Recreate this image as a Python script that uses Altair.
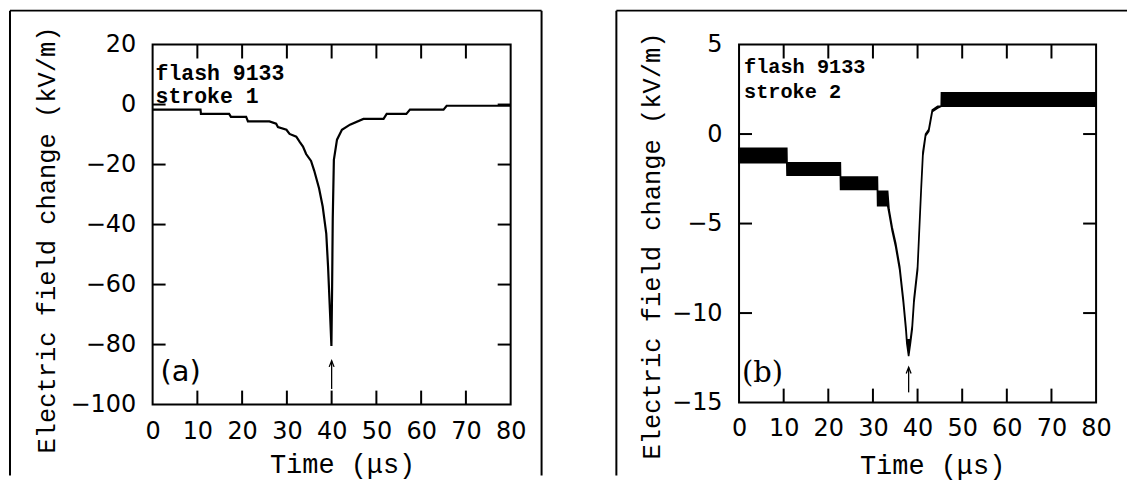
import altair as alt
import pandas as pd

# ---------------- data ----------------
# Panel (a): flash 9133, stroke 1  (time in microseconds, field in kV/m)
time_a = [0, 10.7, 10.8, 17.1, 17.5, 20.9, 21.3, 26.1, 27.6, 28, 29.9, 30.6, 32.1, 32.9,
          33.6, 34.3, 35.4, 36.1, 37.2, 38.0, 38.8, 39.2, 39.6, 39.95, 40.1, 40.25, 40.5,
          41.2, 42.3, 44.1, 47.1, 51.6, 52.3, 56.7, 57.5, 65.0, 65.7, 80]
field_a = [-1.7, -1.7, -3.1, -3.1, -4.1, -4.1, -5.6, -5.6, -6.4, -7.5, -8.4, -9.8, -10.7, -12.5,
           -14, -16.5, -18.8, -22, -28, -34, -43, -54, -68, -80.5, -62, -38, -18.4,
           -11.7, -8.4, -6.7, -4.8, -4.8, -3.1, -3.1, -1.7, -1.7, -0.4, -0.4]

# Panel (b): flash 9133, stroke 2 (noisy trace drawn as upper / lower envelope)
time_b = [0, 10.7, 10.75, 22.7, 22.75, 31.0, 31.05, 33.3, 33.6, 34.3, 35.1, 36.0, 36.8, 37.4,
          37.6, 38.0, 38.4, 38.8, 39.2, 40.0, 40.8, 41.2, 41.8, 42.5, 42.9, 43.3, 44.5, 45.3,
          45.35, 80]
field_b_hi = [-0.8, -0.8, -1.6, -1.6, -2.4, -2.4, -3.2, -3.2, -4.2, -5.2, -6.1, -7.4, -9.2, -10.8,
              -11.5, -11.5, -11.5, -10.7, -9.2, -7.4, -3.0, -1.0, 0.0, 0.25, 0.8, 1.35, 1.55, 1.55,
              2.3, 2.3]
field_b_lo = [-1.6, -1.6, -2.3, -2.3, -3.1, -3.1, -4.0, -4.0, -4.4, -5.4, -6.3, -7.6, -9.4, -11.0,
              -11.7, -12.4, -11.7, -10.9, -9.4, -7.6, -3.2, -1.2, -0.1, 0.15, 0.7, 1.25, 1.45, 1.55,
              1.55, 1.55]

x_ticks = [0, 10, 20, 30, 40, 50, 60, 70, 80]
y_ticks_a = [-100, -80, -60, -40, -20, 0, 20]
y_ticks_b = [-15, -10, -5, 0, 5]
labels_a = ["flash 9133", "stroke 1", "(a)"]
labels_b = ["flash 9133", "stroke 2", "(b)"]
arrow_a = {"t": 40.0, "tip": -85.4, "tail": -94.8}
arrow_b = {"t": 38.0, "tip": -13.03, "tail": -14.43}

x_title = "Time (\u03bcs)"
y_title = "Electric field change (kV/m)"

LABEL_FONT = "DejaVu Sans"
TITLE_FONT = "Liberation Mono"
XT, YT = 14, 13   # inward tick lengths in pixels


def panel(df_main, main_layer_fn, y_domain, y_ticks, labels, arrow, geo):
    W, H = geo["W"], geo["H"]
    xs = alt.Scale(domain=[0, 80], nice=False, zero=False)
    ys = alt.Scale(domain=y_domain, nice=False, zero=False)
    x_axis = alt.Axis(values=x_ticks, ticks=False, tickSize=0, domain=False, grid=False,
                      labelFont=LABEL_FONT, labelFontSize=24, labelColor="black",
                      labelBaseline="alphabetic", labelPadding=geo["xlabpad"], labelFlush=False,
                      title=x_title, titleFont=TITLE_FONT, titleFontSize=27,
                      titleFontWeight="normal", titleColor="black", titleLimit=1000,
                      titleX=geo["xtx"], titleY=geo["xty"], titleAlign="center",
                      titleBaseline="alphabetic")
    y_axis = alt.Axis(values=y_ticks, ticks=False, tickSize=0, domain=False, grid=False,
                      labelFont=LABEL_FONT, labelFontSize=24, labelColor="black",
                      labelPadding=17, labelFlush=False, format="d",
                      title=y_title, titleFont=TITLE_FONT, titleFontSize=25.5,
                      titleFontWeight="normal", titleColor="black", titleLimit=1000,
                      titleX=geo["ytx"], titleY=geo["yty"], titleAngle=270,
                      titleAlign="center", titleBaseline="alphabetic")

    main = main_layer_fn(alt.Chart(df_main),
                         lambda f: alt.X(f, scale=xs, axis=x_axis),
                         lambda f: alt.Y(f, scale=ys, axis=y_axis))
    Xn = lambda f: alt.X(f, scale=xs, axis=None)
    Yn = lambda f: alt.Y(f, scale=ys, axis=None)

    one = pd.DataFrame({"d": [0]})
    layers = [main]

    # arrow marking the peak
    adf = pd.DataFrame({"t": [arrow["t"]], "v": [arrow["tip"]], "tail": [arrow["tail"]]})
    layers.append(alt.Chart(adf).mark_rule(color="black", strokeWidth=1.3).encode(
        x=Xn("t:Q"), y=Yn("v:Q"), y2="tail:Q"))
    layers.append(alt.Chart(adf).mark_point(shape="M -0.4 1 L 0 0 L 0.4 1", filled=False,
                                            color="black", strokeWidth=1.3, size=150, opacity=1).encode(
        x=Xn("t:Q"), y=Yn("v:Q")))

    # annotation text
    for txt, yy in [(labels[0], geo["ay1"]), (labels[1], geo["ay2"])]:
        layers.append(alt.Chart(one).mark_text(font=TITLE_FONT, fontWeight="bold", fontSize=geo["afs"],
                                               align="left", baseline="alphabetic", color="black").encode(
            x=alt.value(geo["ax"]), y=alt.value(yy), text=alt.value(txt)))
    layers.append(alt.Chart(one).mark_text(font=geo["pfont"], fontSize=29, align="left",
                                           baseline="alphabetic", color="black").encode(
        x=alt.value(geo["px"]), y=alt.value(geo["py"]), text=alt.value(labels[2])))

    # outer frame around the panel
    fl, ft, fr, fb = geo["frame"]
    layers.append(alt.Chart(one).mark_rule(color="black", strokeWidth=2).encode(
        x=alt.value(fl), x2=alt.value(fr), y=alt.value(ft)))
    layers.append(alt.Chart(one).mark_rule(color="black", strokeWidth=2).encode(
        x=alt.value(fl), y=alt.value(ft), y2=alt.value(fb)))
    if geo.get("right_edge"):
        layers.append(alt.Chart(one).mark_rule(color="black", strokeWidth=2).encode(
            x=alt.value(fr), y=alt.value(ft), y2=alt.value(fb)))

    # inward tick marks on all four sides, drawn last, placed through the panel scales
    xt = pd.DataFrame({"t": x_ticks[1:-1]})
    yt = pd.DataFrame({"v": y_ticks[1:-1]})
    for y0, y1 in [(0, XT), (H, H - XT)]:
        layers.append(alt.Chart(xt).mark_rule(color="black", strokeWidth=2).encode(
            x=Xn("t:Q"), y=alt.value(y0), y2=alt.value(y1)))
    for x0, x1 in [(0, YT), (W, W - YT)]:
        layers.append(alt.Chart(yt).mark_rule(color="black", strokeWidth=2).encode(
            y=Yn("v:Q"), x=alt.value(x0), x2=alt.value(x1)))

    return alt.layer(*layers).resolve_axis(x="independent", y="independent").properties(
        width=W, height=H)


def line_layer(base, X, Y):
    return base.mark_line(color="black", strokeWidth=2.2, interpolate="linear").encode(
        x=X("t:Q"), y=Y("v:Q"))


def band_layer(base, X, Y):
    return base.mark_area(color="black", stroke="black", strokeWidth=1.6, opacity=1).encode(
        x=X("t:Q"), y=Y("hi:Q"), y2="lo:Q")


df_a = pd.DataFrame({"t": time_a, "v": field_a})
df_b = pd.DataFrame({"t": time_b, "hi": field_b_hi, "lo": field_b_lo})

geo_a = dict(W=359, H=361, xlabpad=34.3, xtx=190, xty=67.7, ytx=-98.7, yty=195.5,
             afs=21.5, ax=3, ay1=36, ay2=58.7, pfont="DejaVu Sans", px=8, py=337,
             frame=(-143, -34, 390, 432), right_edge=True)
geo_b = dict(W=358, H=359, xlabpad=33, xtx=193.6, xty=71.3, ytx=-80, yty=201.5,
             afs=20.3, ax=5, ay1=28.7, ay2=53.7, pfont="DejaVu Serif", px=3, py=338.7,
             frame=(-123, -34, 389, 432), right_edge=False)

chart_a = panel(df_a, line_layer, [-100, 20], y_ticks_a, labels_a, arrow_a, geo_a)
chart_b = panel(df_b, band_layer, [-15, 5], y_ticks_b, labels_b, arrow_b, geo_b)

chart = alt.hconcat(chart_a, chart_b, spacing=71).properties(
    padding=0, background="white"
).configure_view(stroke="black", strokeWidth=2)

chart.save("out.html", embed_options={"renderer": "svg", "actions": False})
